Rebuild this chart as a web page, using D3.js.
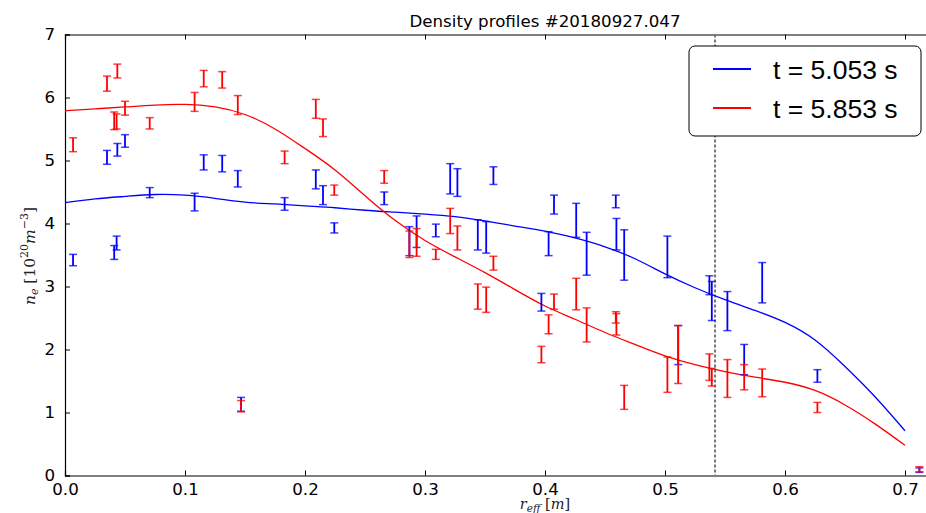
<!DOCTYPE html>
<html>
<head>
<meta charset="utf-8">
<script src="https://cdn.jsdelivr.net/npm/d3@7"></script>
<style>
  body { margin: 0; background: #fff; }
  svg { display: block; }
  .axis text { font-family: "DejaVu Sans", sans-serif; font-size: 16.67px; fill: #000; }
  .axis path, .axis line { stroke: #000; }
</style>
</head>
<body>
<div id="chart"></div>
<script>
// measured positions r_eff [m], shared by both time slices
var radius = [0.0067, 0.035, 0.041, 0.043, 0.0436, 0.050, 0.0706, 0.108, 0.1156, 0.131,
              0.144, 0.1467, 0.183, 0.209, 0.215, 0.2244, 0.266, 0.287, 0.293, 0.309,
              0.321, 0.327, 0.344, 0.351, 0.357, 0.397, 0.403, 0.4075, 0.426, 0.4347,
              0.459, 0.4595, 0.466, 0.502, 0.511, 0.537, 0.539, 0.552, 0.566, 0.581,
              0.627, 0.712];

// t = 5.053 s
var ne5053  = [3.42, 5.05, 3.54, 3.69, 5.17, 5.31, 4.49, 4.34, 4.97, 4.95,
               4.71, 1.13, 4.31, 4.70, 4.45, 3.93, 4.40, 3.72, 3.87, 3.89,
               4.71, 4.65, 3.82, 3.78, 4.76, 2.75, 3.68, 4.30, 4.05, 3.52,
               4.35, 3.83, 3.50, 3.47, 2.07, 3.02, 2.77, 2.61, 1.84, 3.06,
               1.58, 0.085];
var err5053 = [0.09, 0.11, 0.11, 0.11, 0.10, 0.10, 0.08, 0.14, 0.12, 0.13,
               0.13, 0.11, 0.10, 0.15, 0.15, 0.08, 0.10, 0.23, 0.25, 0.10,
               0.24, 0.22, 0.24, 0.25, 0.14, 0.14, 0.19, 0.15, 0.27, 0.34,
               0.10, 0.25, 0.40, 0.33, 0.31, 0.15, 0.31, 0.31, 0.24, 0.32,
               0.10, 0.035];

// t = 5.853 s
var ne5853  = [5.25, 6.22, 5.63, 5.62, 6.42, 5.83, 5.59, 5.93, 6.30, 6.28,
               5.88, 1.10, 5.05, 5.82, 5.52, 4.53, 4.74, 3.67, 3.70, 3.51,
               4.04, 3.77, 2.84, 2.79, 3.37, 1.92, 2.40, 2.76, 2.88, 2.39,
               2.51, 2.40, 1.24, 1.60, 1.92, 1.72, 1.56, 1.54, 1.56, 1.47,
               1.08, 0.10];
var err5853 = [0.11, 0.12, 0.14, 0.12, 0.11, 0.11, 0.09, 0.15, 0.13, 0.13,
               0.15, 0.09, 0.10, 0.15, 0.14, 0.08, 0.10, 0.21, 0.22, 0.08,
               0.20, 0.19, 0.20, 0.20, 0.11, 0.13, 0.15, 0.12, 0.25, 0.27,
               0.09, 0.17, 0.19, 0.28, 0.46, 0.21, 0.14, 0.30, 0.20, 0.22,
               0.08, 0.04];

// fitted profiles
var fitR    = [0, 0.025, 0.05, 0.075, 0.1, 0.125, 0.15, 0.175, 0.2, 0.225, 0.25, 0.275, 0.3, 0.325,
               0.35, 0.375, 0.4, 0.425, 0.45, 0.475, 0.5, 0.525, 0.55, 0.575, 0.6, 0.625, 0.65, 0.675, 0.7];
var fit5053 = [4.33, 4.39, 4.43, 4.46, 4.45, 4.40, 4.34, 4.31, 4.28, 4.25, 4.21, 4.18, 4.15, 4.11,
               4.04, 3.96, 3.88, 3.77, 3.63, 3.44, 3.20, 2.98, 2.79, 2.62, 2.43, 2.15, 1.73, 1.25, 0.71];
var fit5853 = [5.79, 5.82, 5.85, 5.88, 5.89, 5.85, 5.73, 5.50, 5.19, 4.85, 4.44, 4.05, 3.73, 3.47,
               3.22, 2.95, 2.69, 2.48, 2.27, 2.08, 1.90, 1.76, 1.65, 1.56, 1.48, 1.35, 1.12, 0.82, 0.48];

var seriesNames = ["t = 5.053 s", "t = 5.853 s"];
var seriesColors = ["#0000ff", "#ff0000"];
var rSeparatrix = 0.5417;
var xTicks = [0, 0.1, 0.2, 0.3, 0.4, 0.5, 0.6, 0.7];
var yTicks = [0, 1, 2, 3, 4, 5, 6, 7];

var W = 926, H = 513;
var margin = {top: 34.5, left: 65, bottom: 37.5},
    width = 960,
    height = H - margin.top - margin.bottom;

var x = d3.scaleLinear().domain([0, 0.8]).range([0, width]);
var y = d3.scaleLinear().domain([0, 7]).range([height, 0]);

var root = d3.select("#chart").append("svg")
    .attr("width", W)
    .attr("height", H);

var svg = root.append("g")
    .attr("transform", "translate(" + margin.left + "," + margin.top + ")");

// axes with inward ticks
svg.append("g")
    .attr("class", "x axis")
    .attr("transform", "translate(0," + height + ")")
    .call(d3.axisBottom(x).tickValues(xTicks).tickFormat(d3.format(".1f")).tickSize(-5).tickPadding(8));

svg.append("g")
    .attr("class", "x axis top")
    .call(d3.axisTop(x).tickValues(xTicks).tickFormat("").tickSize(-5));

svg.append("g")
    .attr("class", "y axis")
    .call(d3.axisLeft(y).tickValues(yTicks).tickFormat(d3.format("d")).tickSize(-5).tickPadding(10));

svg.selectAll(".axis .domain").attr("stroke-width", 1.2);

// separatrix marker
svg.append("line")
    .attr("x1", x(rSeparatrix)).attr("x2", x(rSeparatrix))
    .attr("y1", 0).attr("y2", height)
    .attr("stroke", "#777")
    .attr("stroke-width", 2)
    .attr("stroke-dasharray", "3,2");

// fit curves
var line = d3.line()
    .x(function(d) { return x(d[0]); })
    .y(function(d) { return y(d[1]); })
    .curve(d3.curveNatural);

[fit5053, fit5853].forEach(function(fit, k) {
  svg.append("path")
      .datum(fitR.map(function(r, i) { return [r, fit[i]]; }))
      .attr("fill", "none")
      .attr("stroke", seriesColors[k])
      .attr("stroke-width", 1.3)
      .attr("d", line);
});

// error bars
var cap = 4;
[[ne5053, err5053], [ne5853, err5853]].forEach(function(s, k) {
  var pts = radius.map(function(r, i) { return {r: r, v: s[0][i], e: s[1][i]}; });
  var g = svg.append("g")
      .attr("stroke", seriesColors[k])
      .attr("fill", "none");
  var bar = g.selectAll("g").data(pts).enter().append("g");
  bar.append("line")
      .attr("x1", function(d) { return x(d.r); })
      .attr("x2", function(d) { return x(d.r); })
      .attr("y1", function(d) { return y(d.v + d.e); })
      .attr("y2", function(d) { return y(d.v - d.e); })
      .attr("stroke-width", 1.8);
  [1, -1].forEach(function(sign) {
    bar.append("line")
        .attr("x1", function(d) { return x(d.r) - cap; })
        .attr("x2", function(d) { return x(d.r) + cap; })
        .attr("y1", function(d) { return y(d.v + sign * d.e); })
        .attr("y2", function(d) { return y(d.v + sign * d.e); })
        .attr("stroke-width", 1.5)
        .attr("stroke-opacity", 0.75);
  });
});

// title
svg.append("text")
    .attr("x", 480)
    .attr("y", 27 - margin.top)
    .attr("text-anchor", "middle")
    .style("font-family", "DejaVu Sans, sans-serif")
    .style("font-size", "16.67px")
    .text("Density profiles #20180927.047");

// x label  r_eff [m]
var xl = svg.append("text")
    .attr("text-anchor", "middle")
    .attr("transform", "translate(480," + (height + 33) + ")")
    .style("font-family", "DejaVu Serif, serif")
    .style("font-size", "14.5px")
    .attr("fill", "#222");
xl.append("tspan").style("font-style", "italic").text("r");
xl.append("tspan").style("font-style", "italic").style("font-size", "10.5px").attr("dy", 3).text("eff");
xl.append("tspan").attr("dy", -3).text(" [");
xl.append("tspan").style("font-style", "italic").text("m");
xl.append("tspan").text("]");

// y label  n_e [10^20 m^-3]
var yl = svg.append("text")
    .attr("text-anchor", "middle")
    .attr("transform", "translate(" + (35 - margin.left) + "," + (256 - margin.top) + ") rotate(-90)")
    .style("font-family", "DejaVu Serif, serif")
    .style("font-size", "15.5px")
    .attr("fill", "#222");
yl.append("tspan").style("font-style", "italic").text("n");
yl.append("tspan").style("font-style", "italic").style("font-size", "11px").attr("dy", 3).text("e");
yl.append("tspan").attr("dy", -3).text(" [10");
yl.append("tspan").style("font-size", "11px").attr("dy", -7).text("20");
yl.append("tspan").style("font-style", "italic").attr("dy", 7).text("m");
yl.append("tspan").style("font-size", "11px").attr("dy", -7).text("\u22123");
yl.append("tspan").attr("dy", 7).text("]");

// legend
var lg = root.append("g").attr("transform", "translate(689,46)");
lg.append("rect")
    .attr("width", 232).attr("height", 90)
    .attr("rx", 6).attr("ry", 6)
    .attr("fill", "#fff")
    .attr("stroke", "#000")
    .attr("stroke-width", 1);
seriesNames.forEach(function(name, k) {
  var yy = 23 + k * 39;
  lg.append("line")
      .attr("x1", 24).attr("x2", 62)
      .attr("y1", yy).attr("y2", yy)
      .attr("stroke", seriesColors[k])
      .attr("stroke-width", 2);
  lg.append("text")
      .attr("x", 84).attr("y", yy + 10)
      .style("font-family", "Liberation Sans, Arial, sans-serif")
      .style("font-size", "26.5px")
      .text(name);
});
</script>
</body>
</html>
